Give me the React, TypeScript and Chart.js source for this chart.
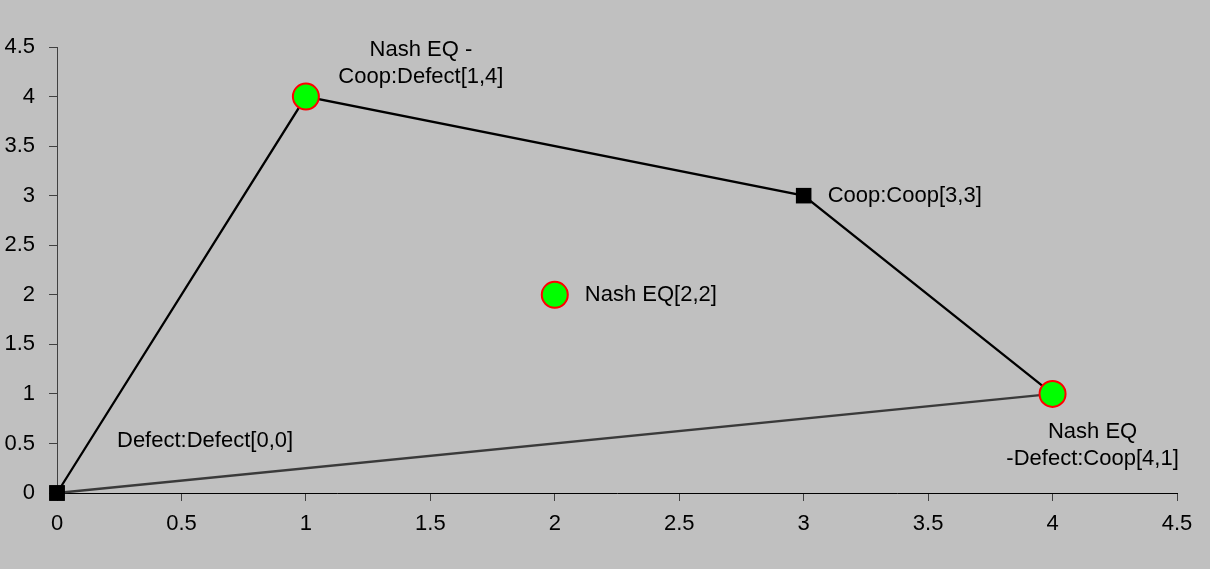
import React, { useEffect, useRef } from "react";
import { Chart, registerables } from "chart.js";

Chart.register(...registerables);

// Polygon of outcomes (closed back to the origin)
const outlineX = [0, 1, 3, 4, 0];
const outlineY = [0, 4, 3, 1, 0];
const outlineKinds = ["square", "nash", "square", "nash", "square"];

// Separate Nash equilibrium point
const innerX = [2];
const innerY = [2];

// Data labels
const labelX = [1, 3, 2, 4, 0];
const labelY = [4, 3, 2, 1, 0];
const labelText = [
  ["Nash EQ -", "Coop:Defect[1,4]"],
  ["Coop:Coop[3,3]"],
  ["Nash EQ[2,2]"],
  ["Nash EQ", "-Defect:Coop[4,1]"],
  ["Defect:Defect[0,0]"],
];

const tickMin = 0;
const tickMax = 4.5;
const tickStep = 0.5;

// label placement (pixel offsets from the point) – style only
const labelPlacement = [
  { dx: 115, dy: -47, align: "center" },
  { dx: 24, dy: 0, align: "left" },
  { dx: 30, dy: 0, align: "left" },
  { dx: 40, dy: 38, align: "center" },
  { dx: 60, dy: -52, align: "left" },
];

const FONT = "Liberation Sans, Arial, sans-serif";
const FONT_SIZE = 22;

const labelPlugin = {
  id: "pointLabels",
  afterDatasetsDraw(chart: any) {
    const ctx = chart.ctx;
    const xs = chart.scales.x;
    const ys = chart.scales.y;
    ctx.save();
    ctx.fillStyle = "#000";
    ctx.font = `${FONT_SIZE}px ${FONT}`;
    ctx.textBaseline = "middle";
    labelText.forEach((lines, i) => {
      const p = labelPlacement[i];
      const px = xs.getPixelForValue(labelX[i]) + p.dx;
      const py = ys.getPixelForValue(labelY[i]) + p.dy;
      ctx.textAlign = p.align;
      lines.forEach((line, j) => {
        ctx.fillText(line, px, py + j * 27);
      });
    });
    ctx.restore();
  },
};

export default function App() {
  const ref = useRef<HTMLCanvasElement>(null);
  useEffect(() => {
    const canvas = ref.current!;
    const isSq = (k: string) => k === "square";
    const chart = new Chart(canvas, {
      type: "scatter",
      data: {
        datasets: [
          {
            data: outlineX.map((x, i) => ({ x, y: outlineY[i] })),
            showLine: true,
            borderColor: "#000",
            borderWidth: 2.3,
            clip: false as any,
            pointStyle: outlineKinds.map((k) => (isSq(k) ? "rect" : "circle")) as any,
            pointRadius: outlineKinds.map((k) => (isSq(k) ? 11 : 13)),
            pointBackgroundColor: outlineKinds.map((k) => (isSq(k) ? "#000" : "#00ff00")),
            pointBorderColor: outlineKinds.map((k) => (isSq(k) ? "#000" : "#ff0000")),
            pointBorderWidth: outlineKinds.map((k) => (isSq(k) ? 0 : 2)),
            segment: {
              borderColor: (c: any) => (c.p0DataIndex === 3 ? "#3a3a3a" : undefined),
            },
          },
          {
            data: innerX.map((x, i) => ({ x, y: innerY[i] })),
            showLine: false,
            clip: false as any,
            pointStyle: "circle",
            pointRadius: 13,
            pointBackgroundColor: "#00ff00",
            pointBorderColor: "#ff0000",
            pointBorderWidth: 2,
          },
        ],
      },
      options: {
        responsive: false,
        animation: false,
        devicePixelRatio: 1,
        layout: { padding: { top: 47, right: 33, left: 0, bottom: 0 } },
        plugins: { legend: { display: false }, tooltip: { enabled: false } },
        scales: {
          x: {
            type: "linear",
            min: tickMin,
            max: tickMax,
            afterFit: (s: any) => {
              s.height = 76;
            },
            border: { color: "#000", width: 1 },
            grid: { drawOnChartArea: false, drawTicks: true, tickLength: 8, color: "#404040" },
            ticks: {
              stepSize: tickStep,
              color: "#000",
              padding: 10,
              font: { family: FONT, size: FONT_SIZE },
              maxRotation: 0,
              callback: (v: any) => String(v),
            },
          },
          y: {
            type: "linear",
            min: tickMin,
            max: tickMax,
            afterFit: (s: any) => {
              s.width = 57;
            },
            border: { color: "#404040", width: 1 },
            grid: { drawOnChartArea: false, drawTicks: true, tickLength: 8, color: "#404040" },
            ticks: {
              stepSize: tickStep,
              color: "#000",
              padding: 14,
              font: { family: FONT, size: FONT_SIZE },
              callback: (v: any) => String(v),
            },
          },
        },
      } as any,
      plugins: [labelPlugin],
    });
    return () => chart.destroy();
  }, []);
  return (
    <div
      style={{
        position: "fixed",
        left: 0,
        top: 0,
        width: 1210,
        height: 569,
        background: "#c0c0c0",
      }}
    >
      <canvas ref={ref} width={1210} height={569} style={{ display: "block" }} />
    </div>
  );
}
